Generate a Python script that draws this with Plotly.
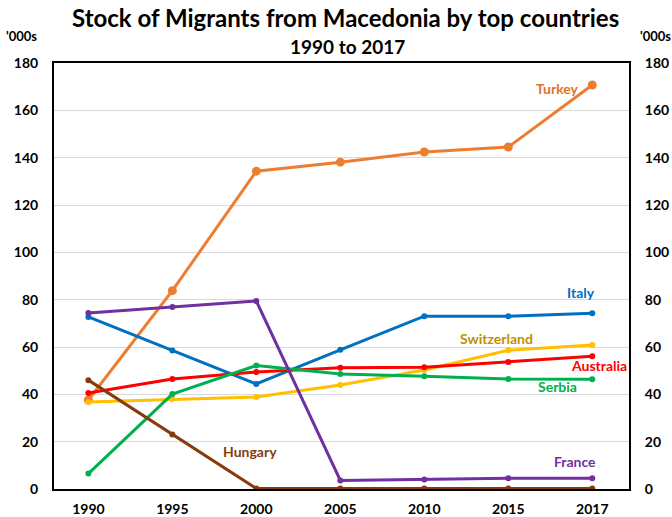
import plotly.graph_objects as go

years = ["1990", "1995", "2000", "2005", "2010", "2015", "2017"]

turkey = [37.6, 83.8, 134.3, 138.1, 142.4, 144.5, 170.7]
italy = [72.7, 58.5, 44.4, 58.8, 73.0, 73.0, 74.3]
france = [74.4, 76.9, 79.4, 3.6, 4.0, 4.5, 4.5]
hungary = [46.0, 23.0, 0.2, 0.2, 0.2, 0.2, 0.2]
serbia = [6.5, 40.1, 52.2, 48.6, 47.6, 46.5, 46.4]
australia = [40.6, 46.5, 49.4, 51.2, 51.4, 53.7, 56.1]
switzerland = [36.8, 38.0, 38.9, 43.9, 50.3, 58.6, 60.8]

# name, values, line colour, label colour, label x (category index), label y, marker size
series = [
    ("Turkey", turkey, "#ED7D31", "#E07328", 5.59, 169.4, 9),
    ("Italy", italy, "#0070C0", "#0070C0", 5.87, 83.2, 6),
    ("Switzerland", switzerland, "#FFC000", "#BF9000", 4.86, 63.4, 6),
    ("Australia", australia, "#FF0000", "#FF0000", 6.08, 52.0, 6),
    ("Serbia", serbia, "#00B050", "#00B050", 5.58, 43.5, 6),
    ("France", france, "#7030A0", "#7030A0", 5.79, 11.8, 6),
    ("Hungary", hungary, "#843C0C", "#843C0C", 1.92, 16.0, 6),
]

FONT = "Lato"
fig = go.Figure()
annotations = []
for name, vals, color, lcolor, lx, ly, msize in series:
    fig.add_trace(go.Scatter(
        x=years, y=vals, mode="lines+markers", name=name,
        line=dict(color=color, width=3),
        marker=dict(color=color, size=msize),
        showlegend=False,
    ))
    annotations.append(dict(
        x=lx, y=ly, xref="x", yref="y", text=name, showarrow=False,
        font=dict(family=FONT, size=14, color=lcolor, weight="bold"),
    ))

# invisible trace carrying the right-hand axis
fig.add_trace(go.Scatter(x=years, y=turkey, yaxis="y2", mode="lines",
                         line=dict(width=0), hoverinfo="skip", showlegend=False,
                         opacity=0))

PLOT_H = 426.0
PLOT_BOTTOM = 489.0


def py(pix):
    """Paper y for a pixel row of the page."""
    return (PLOT_BOTTOM - pix) / PLOT_H


annotations += [
    dict(text="Stock of Migrants from Macedonia by top countries", x=0.5, xshift=4,
         xref="paper", y=py(18), yref="paper", showarrow=False,
         xanchor="center", yanchor="middle",
         font=dict(family=FONT, size=24, color="black", weight="bold")),
    dict(text="1990 to 2017", x=0.5, xshift=6, xref="paper", y=py(47), yref="paper",
         showarrow=False, xanchor="center", yanchor="middle",
         font=dict(family=FONT, size=19, color="black", weight="bold")),
    dict(text="'000s", x=0.0, xref="paper", xshift=-33, y=py(36), yref="paper",
         showarrow=False, xanchor="center", yanchor="middle",
         font=dict(family=FONT, size=13, color="black", weight="bold")),
    dict(text="'000s", x=1.0, xref="paper", xshift=26, y=py(36), yref="paper",
         showarrow=False, xanchor="center", yanchor="middle",
         font=dict(family=FONT, size=13, color="black", weight="bold")),
]

tickfont = dict(family=FONT, size=14, color="black", weight="bold")
fig.update_layout(
    width=672, height=517,
    margin=dict(l=54, r=43, t=63, b=28, autoexpand=False),
    paper_bgcolor="white", plot_bgcolor="white",
    xaxis=dict(type="category", showline=True, mirror=True, linecolor="black",
               linewidth=2, showgrid=False, tickfont=tickfont,
               ticks="outside", ticklen=6, tickcolor="rgba(0,0,0,0)",
               automargin=False),
    yaxis=dict(range=[0, 180], dtick=20, showline=True, mirror=True,
               linecolor="black", linewidth=2, gridcolor="#D9D9D9", gridwidth=1,
               tickfont=tickfont, zeroline=False,
               ticks="outside", ticklen=11, tickcolor="rgba(0,0,0,0)",
               automargin=False),
    yaxis2=dict(range=[0, 180], dtick=20, overlaying="y", side="right",
                showgrid=False, tickfont=tickfont, zeroline=False, showline=False,
                ticks="outside", ticklen=12, tickcolor="rgba(0,0,0,0)",
                automargin=False),
    annotations=annotations,
)

fig.write_html("out.html")
